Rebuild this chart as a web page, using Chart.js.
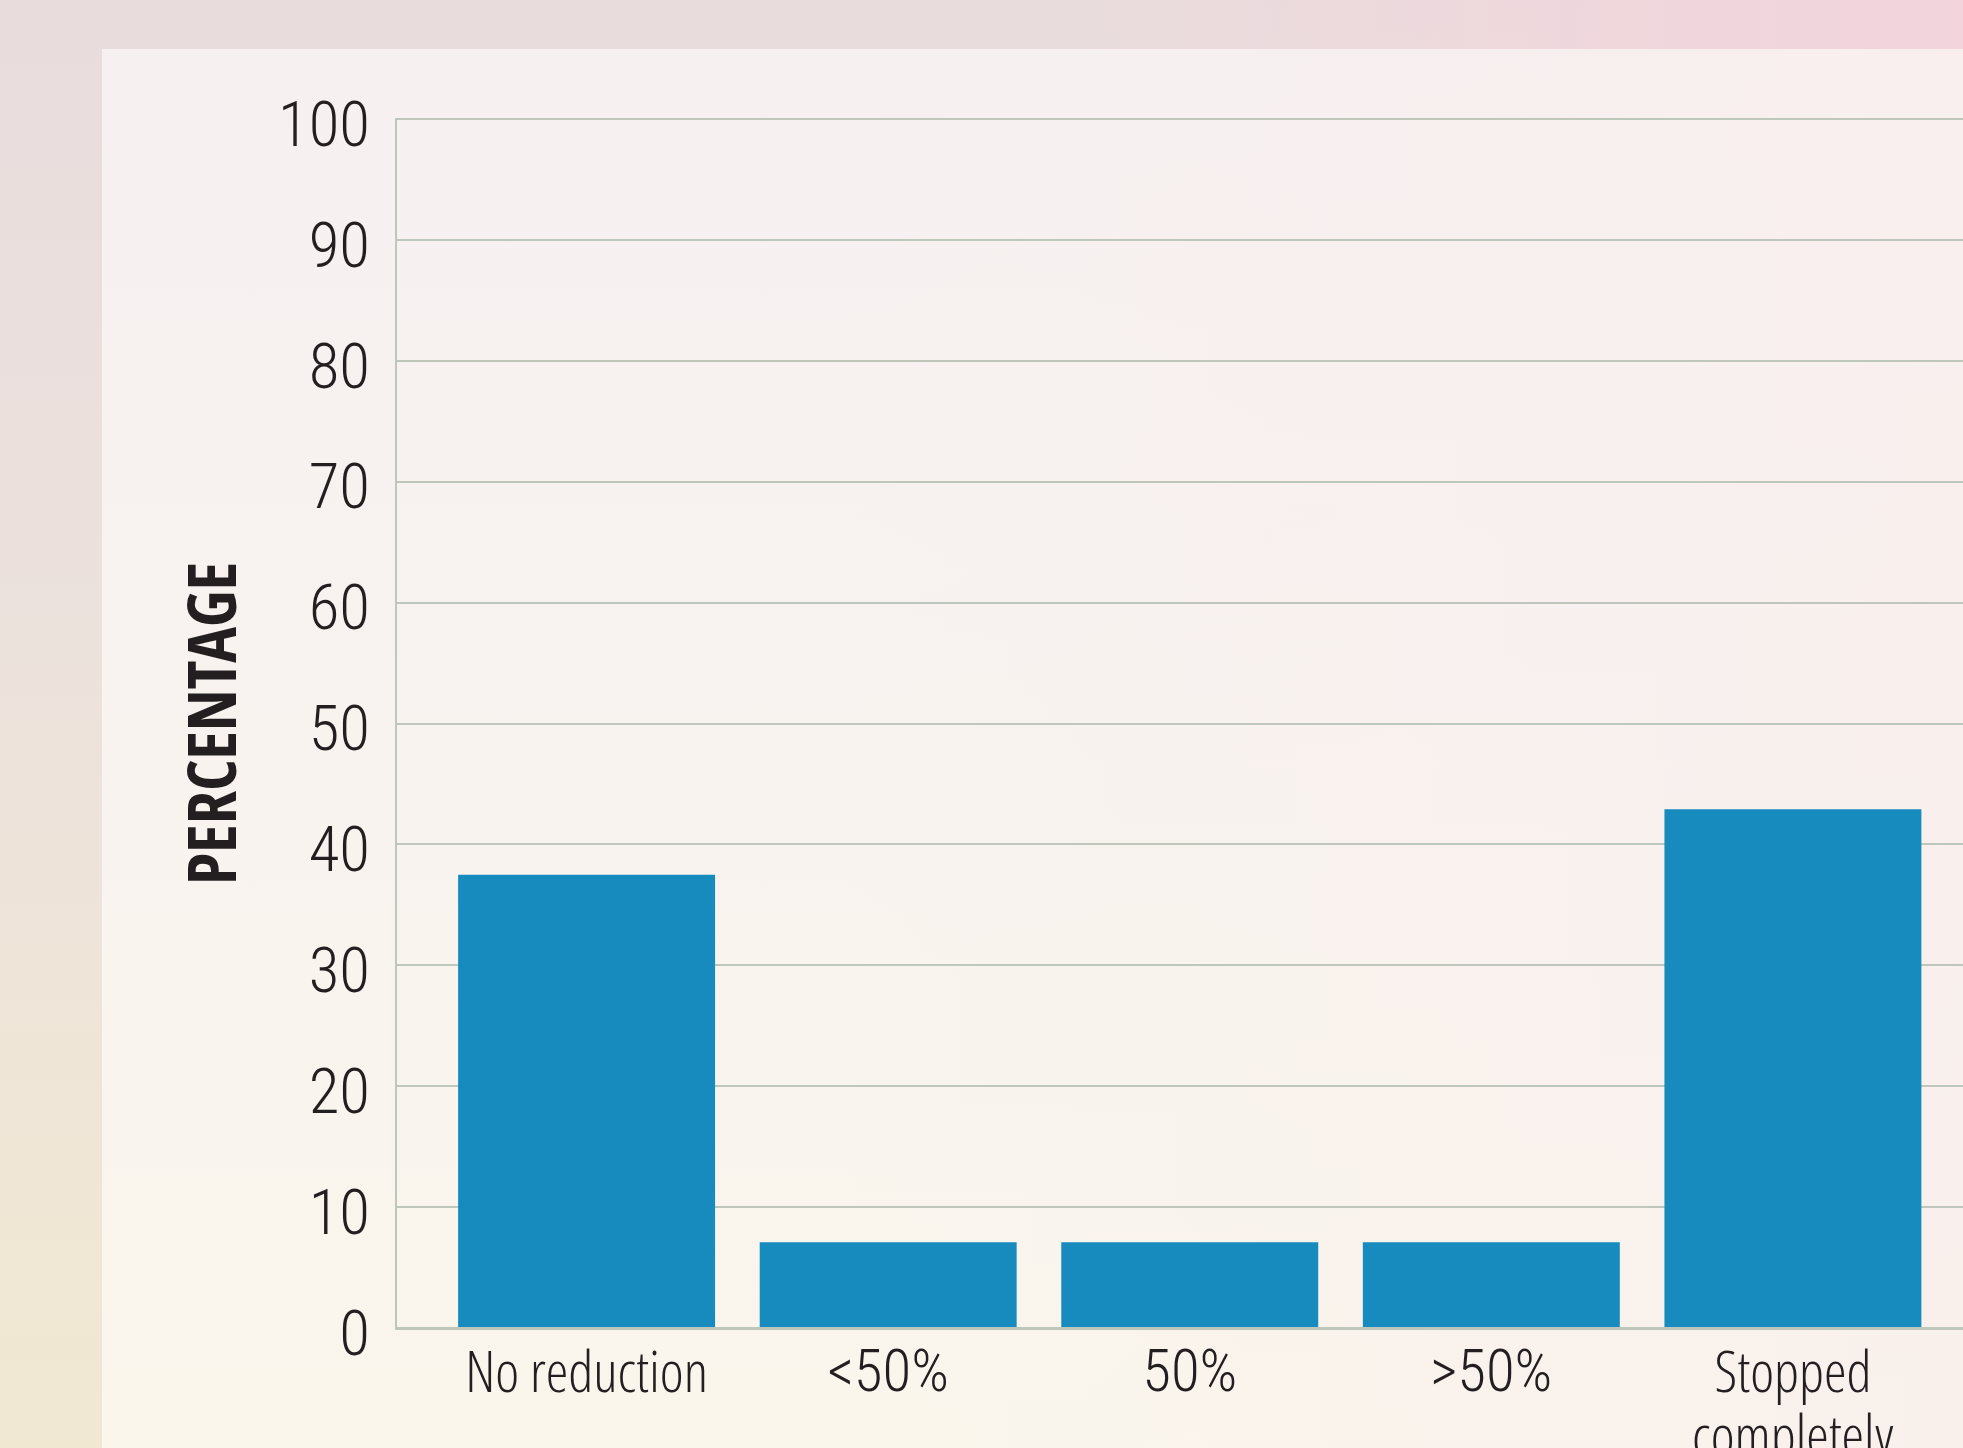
<!DOCTYPE html>
<html>
<head>
<meta charset="utf-8">
<script src="https://cdn.jsdelivr.net/npm/chart.js"></script>
<style>
  html, body {
    margin: 0;
    padding: 0;
    width: 1963px;
    height: 1448px;
    overflow: hidden;
  }
  body {
    position: relative;
    background:
      linear-gradient(to right, rgba(243, 212, 220, 0) 55%, rgba(243, 212, 220, 1) 100%),
      linear-gradient(to bottom, #e9dcdd 0%, #ece2dc 45%, #f1e8d2 100%);
  }
  .panel {
    position: absolute;
    left: 102px;
    top: 49px;
    right: 0;
    bottom: 0;
    background:
      linear-gradient(to right, rgba(248, 238, 238, 0) 40%, rgba(249, 239, 237, 0.8) 100%),
      linear-gradient(to bottom, #f6f0f1 0%, #f8f3ef 50%, #faf6ec 100%);
  }
  #chart {
    position: absolute;
    left: 0;
    top: 0;
  }
</style>
</head>
<body>
<div class="panel"></div>
<canvas id="chart" width="1963" height="1448"></canvas>
<script>
const categories = ['No reduction', '<50%', '50%', '>50%', ['Stopped', 'completely']];
const percentages = [37.5, 7.1, 7.1, 7.1, 42.9];
const yTicks = [0, 10, 20, 30, 40, 50, 60, 70, 80, 90, 100];

// words in light condensed Open Sans, figures in Roboto Condensed (its digits are a bit wider)
const wordFont = "'Open Sans', 'Roboto Condensed', sans-serif";
const figureFont = "'Roboto Condensed', 'Open Sans', sans-serif";
const titleFont = "'Open Sans Condensed', 'Roboto Condensed', sans-serif";
const ink = '#231f20';
const gridColor = '#bec7bc';

// bars sit on a linear x axis so the first slot can start a little away from the y axis
const points = categories.map((c, i) => ({ x: i, y: percentages[i] }));

const ctx = document.getElementById('chart').getContext('2d');

new Chart(ctx, {
  type: 'bar',
  data: {
    datasets: [{
      data: points,
      backgroundColor: '#178abe',
      borderWidth: 0,
      barPercentage: 0.852,
      categoryPercentage: 1
    }]
  },
  options: {
    responsive: false,
    animation: false,
    layout: {
      padding: { top: 119, left: 0, right: 0, bottom: 0 }
    },
    plugins: {
      legend: { display: false },
      tooltip: { enabled: false }
    },
    scales: {
      x: {
        type: 'linear',
        min: -0.632,
        max: 4.564,
        offset: false,
        grid: { display: false, offset: false },
        border: { display: true, color: gridColor, width: 3 },
        afterBuildTicks: (axis) => {
          axis.ticks = categories.map((c, i) => ({ value: i }));
        },
        afterFit: (axis) => { axis.height = 120; },
        ticks: {
          autoSkip: false,
          maxRotation: 0,
          minRotation: 0,
          padding: 8,
          color: ink,
          font: (c) => {
            const label = categories[c.tick ? c.tick.value : 0];
            const figures = typeof label === 'string' && label.includes('%');
            return figures
              ? { family: figureFont, size: 59, weight: 300, lineHeight: 1.1 }
              : { family: wordFont, size: 57, weight: '300 condensed', lineHeight: 1.12 };
          },
          callback: (value) => categories[value]
        }
      },
      y: {
        min: yTicks[0],
        max: yTicks[yTicks.length - 1],
        grid: { color: gridColor, lineWidth: 2, drawTicks: false },
        border: { display: true, color: gridColor, width: 2 },
        afterFit: (axis) => { axis.width = 396; },
        ticks: {
          stepSize: 10,
          padding: 26,
          labelOffset: 11,
          color: ink,
          font: { family: figureFont, size: 63, weight: 300 }
        },
        title: {
          display: true,
          text: 'PERCENTAGE',
          color: ink,
          padding: { top: 178 },
          font: { family: titleFont, size: 67, weight: 'bold', lineHeight: 1.2 }
        }
      }
    }
  }
});
</script>
</body>
</html>
